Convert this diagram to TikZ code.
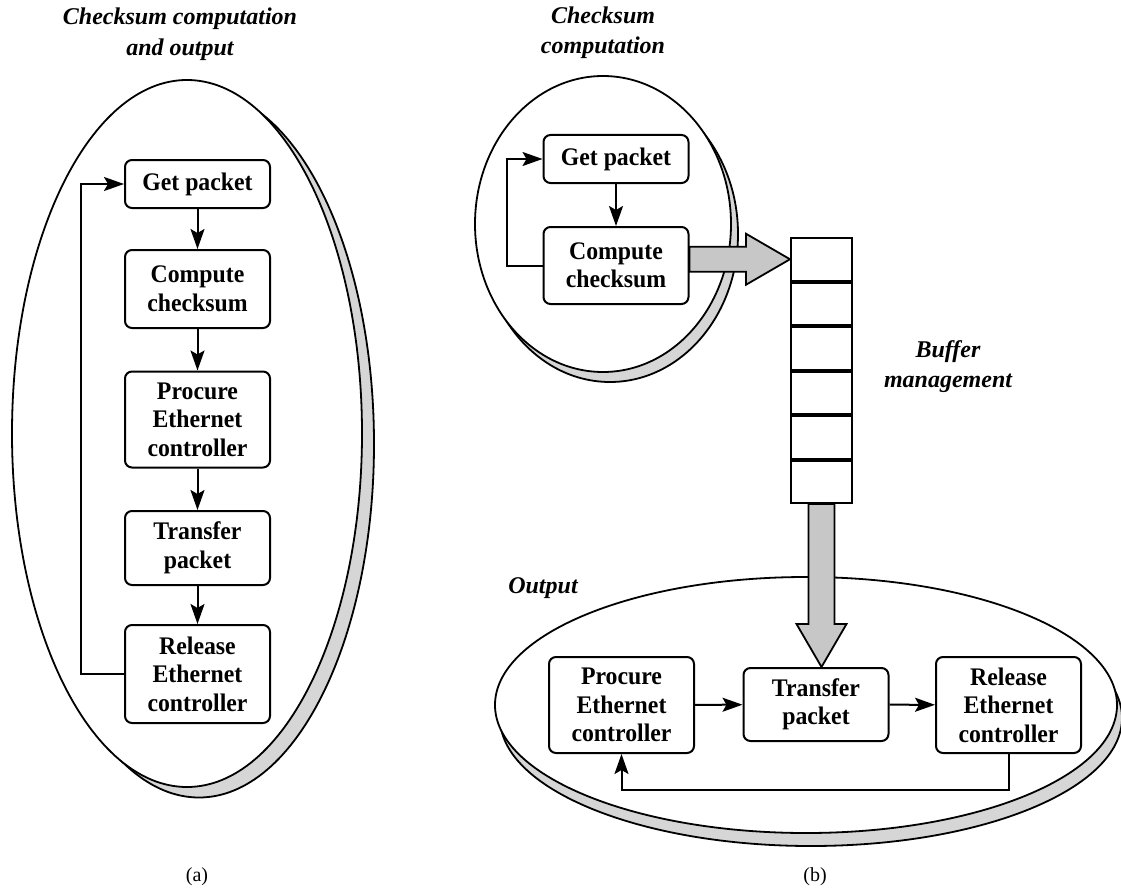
\documentclass[tikz,border=0pt]{standalone}
\usepackage{fontspec}
\setmainfont{Liberation Serif}
\newfontfamily\boxfont{Liberation Serif}[FakeStretch=0.94]
\usetikzlibrary{arrows.meta,calc}
\begin{document}
\begin{tikzpicture}[x=1pt,y=-1pt,
  box/.style={draw, line width=2pt, rounded corners=7pt, fill=white, align=center,
    font=\boxfont\bfseries\fontsize{25.3}{28.5}\selectfont, minimum width=145pt, inner sep=0pt},
  lbl/.style={align=center, font=\bfseries\itshape\fontsize{24}{31}\selectfont},
  conn/.style={line width=2pt, -{Stealth[length=20pt,width=14pt,inset=4pt]}},
  shadowoval/.style={draw, line width=1.8pt, fill=black!16},
  oval/.style={draw, line width=1.8pt, fill=white},
  fat/.style={draw, line width=1.8pt, fill=black!22, line join=miter},
  cell/.style={draw, line width=2pt, minimum width=61pt, minimum height=42.5pt, inner sep=0pt},
  sublabel/.style={font=\fontsize{20}{24}\selectfont}
]
\useasboundingbox (0,0) rectangle (1121,888);

% ---------- (a) ----------
\draw[shadowoval] (199,444) ellipse [x radius=175pt, y radius=353.5pt];
\draw[oval] (187,433.5) ellipse [x radius=175pt, y radius=353.5pt];

\node[lbl] (ta) at (180,34) {Checksum computation\\and output};

\node[box, minimum height=48pt] (gpa) at (197.5,184) {Get packet};
\node[box, minimum height=78pt] (cba) at (197.5,289) {Compute\\checksum};
\node[box, minimum height=96pt] (pca) at (197.5,419.5) {Procure\\Ethernet\\controller};
\node[box, minimum height=74pt] (tpa) at (197.5,548) {Transfer\\packet};
\node[box, minimum height=98pt] (rla) at (197.5,674) {Release\\Ethernet\\controller};

\draw[conn] (gpa) -- (cba);
\draw[conn] (cba) -- (pca);
\draw[conn] (pca) -- (tpa);
\draw[conn] (tpa) -- (rla);
\draw[conn] (rla.west) -- ++(-43,0) |- (gpa.west);

\node[sublabel] (la) at (197,877) {(a)};

% ---------- (b) ----------
\draw[shadowoval] (610,234) ellipse [x radius=128pt, y radius=148pt];
\draw[oval] (603,224) ellipse [x radius=128pt, y radius=148pt];

\draw[shadowoval] (811,718) ellipse [x radius=311pt, y radius=128pt];
\draw[oval] (806,705) ellipse [x radius=311pt, y radius=128pt];

\node[lbl, font=\bfseries\itshape\fontsize{24}{30}\selectfont] (tb) at (603,33) {Checksum\\computation};
\node[lbl, font=\bfseries\itshape\fontsize{24}{30}\selectfont] (tbuf) at (948,367) {Buffer\\management};
\node[lbl] (tout) at (543,588) {Output};

\node[box, minimum height=48pt] (gpb) at (616,159) {Get packet};
\node[box, minimum height=77pt] (cbb) at (616,265.5) {Compute\\checksum};
\draw[conn] (gpb) -- (cbb);
\draw[conn] (cbb.west) -- ++(-36,0) |- (gpb.west);

\node[cell] (c1) at (821.5,259.25) {};
\node[cell, anchor=north] (c2) at (c1.south) {};
\node[cell, anchor=north] (c3) at (c2.south) {};
\node[cell, anchor=north] (c4) at (c3.south) {};
\node[cell, anchor=north] (c5) at (c4.south) {};
\node[cell, anchor=north] (c6) at (c5.south) {};

\node[box, minimum height=96pt] (pcb) at (621.5,705) {Procure\\Ethernet\\controller};
\node[box, minimum height=73pt] (tpb) at (816,704.5) {Transfer\\packet};
\node[box, minimum height=96pt] (rlb) at (1008.5,705) {Release\\Ethernet\\controller};

\draw[conn] (pcb) -- (tpb);
\draw[conn] (tpb) -- (rlb);
\draw[conn] (rlb.south) -- ++(0,36) -| (pcb.south);

% fat arrows
\draw[fat] let \p1=(cbb.east), \p2=(c1.west) in
  (\x1,\y2+12.5pt) -- (\x2-44pt,\y2+12.5pt) -- (\x2-44pt,\y2+25.5pt) -- (\x2,\y2)
  -- (\x2-44pt,\y2-25.5pt) -- (\x2-44pt,\y2-12.5pt) -- (\x1,\y2-12.5pt) -- cycle;
\draw[fat] let \p1=(c6.south), \p2=(tpb.north) in
  (\x1-13pt,\y1) -- (\x1-13pt,\y2+43pt) -- (\x1-25pt,\y2+43pt) -- (\x1,\y2)
  -- (\x1+25pt,\y2+43pt) -- (\x1+13pt,\y2+43pt) -- (\x1+13pt,\y1) -- cycle;

\node[sublabel] (lb) at (815,877) {(b)};
\end{tikzpicture}
\end{document}
